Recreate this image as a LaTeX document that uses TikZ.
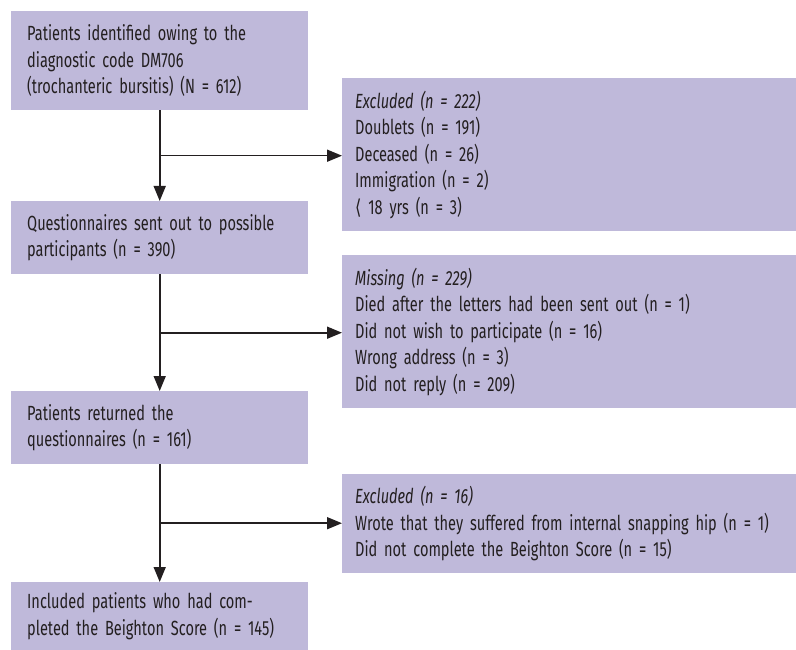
\documentclass[tikz,border=0pt]{standalone}
\usepackage{fontspec}
\setmainfont{Fira Sans}[FakeStretch=0.71, WordSpace=0.7]
\newfontfamily\symfont{DejaVu Sans}[FakeStretch=0.8]
\usetikzlibrary{arrows.meta,calc}
\definecolor{boxfill}{RGB}{191,185,218}
\definecolor{ink}{RGB}{35,31,32}
\tikzset{
  box/.style={fill=boxfill, draw=none, anchor=north west, align=left, text=ink,
    inner xsep=16pt, inner ysep=0pt, font=\fontsize{20.5}{26.5}\selectfont},
  leftbox/.style={box, text width=265pt, minimum width=297pt},
  rightbox/.style={box, inner xsep=13pt, text width=428pt, minimum width=454pt},
  flow/.style={draw=ink, line width=1.6pt, -{Triangle[length=15pt,width=12pt]}}
}
\begin{document}
\begin{tikzpicture}[x=1pt,y=-1pt]
\useasboundingbox (0,0) rectangle (796,650);
\node[leftbox, minimum height=99pt] (b1) at (11,11) {Patients identified owing to the\\diagnostic code DM706\\(trochanteric bursitis) (N = 612)};
\node[rightbox, minimum height=153pt] (b2) at (342,78) {\textit{Excluded (n = 222)}\\Doublets (n = 191)\\Deceased (n = 26)\\Immigration (n = 2)\\{\symfont\symbol{"27E8}} 18 yrs (n = 3)};
\node[leftbox, minimum height=73pt] (b3) at (11,201) {Questionnaires sent out to possible\\participants (n = 390)};
\node[rightbox, minimum height=153pt] (b4) at (342,255) {\textit{Missing (n = 229)}\\Died after the letters had been sent out (n = 1)\\Did not wish to participate (n = 16)\\Wrong address (n = 3)\\Did not reply (n = 209)};
\node[leftbox, minimum height=73pt] (b5) at (11,391) {Patients returned the\\questionnaires (n = 161)};
\node[rightbox, minimum height=99pt] (b6) at (342,474) {\textit{Excluded (n = 16)}\\Wrote that they suffered from internal snapping hip (n = 1)\\Did not complete the Beighton Score (n = 15)};
\node[leftbox, minimum height=68pt] (b7) at (11,582) {Included patients who had com-\\pleted the Beighton Score (n = 145)};
\coordinate (j1) at ($(b1.south)!0.5!(b3.north)$);
\coordinate (j2) at ($(b3.south)!0.5!(b5.north)$);
\coordinate (j3) at ($(b5.south)!0.5!(b7.north)$);
\draw[flow] (b1.south) -- (b3.north);
\draw[flow] (b3.south) -- (b5.north);
\draw[flow] (b5.south) -- (b7.north);
\draw[flow] (j1) -- (j1 -| b2.west);
\draw[flow] (j2) -- (j2 -| b4.west);
\draw[flow] (j3) -- (j3 -| b6.west);
\end{tikzpicture}
\end{document}
